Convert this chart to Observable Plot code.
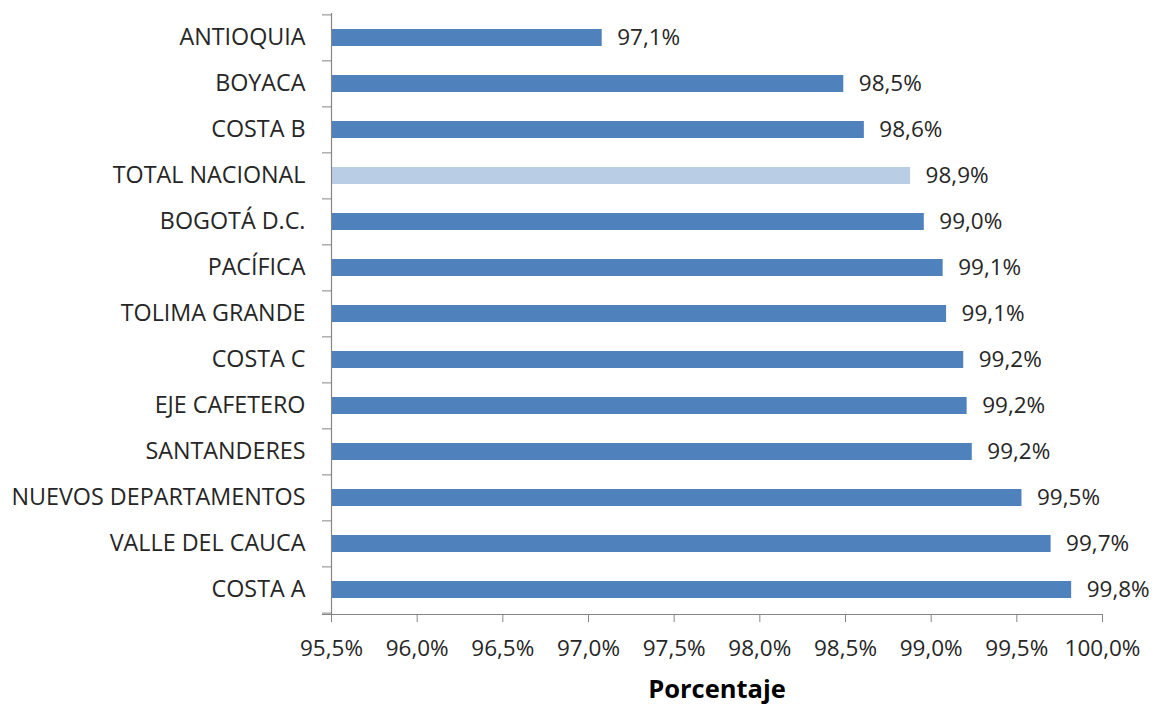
<!DOCTYPE html>
<html>
<head>
<meta charset="utf-8">
<script src="https://cdn.jsdelivr.net/npm/d3@7"></script>
<script src="https://cdn.jsdelivr.net/npm/@observablehq/plot@0.6"></script>
<style>
  html, body { margin: 0; padding: 0; background: #fff; }
  #chart { width: 1158px; height: 707px; }
</style>
</head>
<body>
<div id="chart"></div>
<script>
const categories = ["ANTIOQUIA", "BOYACA", "COSTA B", "TOTAL NACIONAL", "BOGOTÁ D.C.", "PACÍFICA", "TOLIMA GRANDE", "COSTA C", "EJE CAFETERO", "SANTANDERES", "NUEVOS DEPARTAMENTOS", "VALLE DEL CAUCA", "COSTA A"];
const values = [97.08, 98.49, 98.61, 98.88, 98.96, 99.07, 99.09, 99.19, 99.21, 99.24, 99.53, 99.70, 99.82];
const highlight = ["TOTAL NACIONAL"];
const tickValues = [95.5, 96.0, 96.5, 97.0, 97.5, 98.0, 98.5, 99.0, 99.5, 100.0];
const axisTitle = "Porcentaje";

const data = categories.map((c, i) => ({category: c, value: values[i]}));
const fmt = v => d3.format(".1f")(v).replace(".", ",") + "%";
const xMin = tickValues[0];
const xMax = tickValues[tickValues.length - 1];

const W = 1158, H = 707;
const mTop = 13, mBottom = 93, mLeft = 331, mRight = 56;
const step = (H - mTop - mBottom) / categories.length;
const axisColor = "#868686";
const textColor = "#262626";
const font = "'Open Sans', sans-serif";

const chart = Plot.plot({
  width: W,
  height: H,
  marginTop: mTop,
  marginBottom: mBottom,
  marginLeft: mLeft,
  marginRight: mRight,
  style: {fontFamily: font, color: textColor, background: "#fff"},
  x: {domain: [xMin, xMax], axis: null},
  y: {domain: categories, paddingInner: 0.63, paddingOuter: 0.315, axis: null},
  marks: [
    Plot.barX(data, {
      y: "category",
      x1: () => xMin,
      x2: "value",
      fill: d => highlight.includes(d.category) ? "#B9CDE5" : "#4F81BD"
    }),
    Plot.text(data, {
      y: "category",
      x: "value",
      text: d => fmt(d.value),
      textAnchor: "start",
      dx: 15,
      fontSize: 22.5,
      fill: textColor
    }),
    // y axis line
    Plot.ruleX([xMin], {stroke: axisColor, strokeWidth: 1.2}),
    // y axis tick marks at category boundaries
    Plot.axisY({ticks: categories, tickSize: 9, tickFormat: null, stroke: axisColor, dy: -step / 2, label: null}),
    Plot.axisY({ticks: categories.slice(-1), tickSize: 9, tickFormat: null, stroke: axisColor, dy: step / 2, label: null}),
    // category labels
    Plot.axisY({tickSize: 0, tickPadding: 26, fontSize: 23.3, fill: textColor, label: null}),
    // x axis line
    Plot.frame({anchor: "bottom", stroke: axisColor, strokeWidth: 1.2, insetLeft: -9}),
    // x axis ticks and labels
    Plot.axisX({ticks: tickValues, tickSize: 8, tickPadding: 18, tickFormat: fmt, fontSize: 22.5, stroke: axisColor, fill: textColor, label: null}),
    Plot.text([axisTitle], {frameAnchor: "bottom", dy: 83, fontSize: 25.5, fontWeight: "bold", fill: "#000"})
  ]
});
document.getElementById("chart").appendChild(chart);
</script>
</body>
</html>
